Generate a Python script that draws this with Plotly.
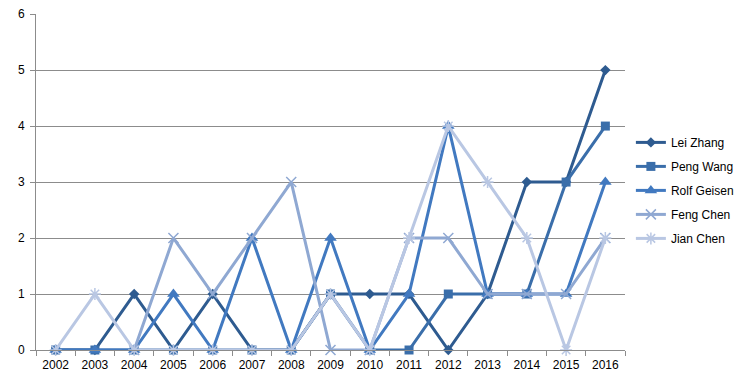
import plotly.graph_objects as go

years = [str(y) for y in range(2002, 2017)]
lei_zhang = [0, 0, 1, 0, 1, 0, 0, 1, 1, 1, 0, 1, 3, 3, 5]
peng_wang = [0, 0, 0, 0, 0, 0, 0, 1, 0, 0, 1, 1, 1, 3, 4]
rolf_geisen = [0, 0, 0, 1, 0, 2, 0, 2, 0, 1, 4, 1, 1, 1, 3]
feng_chen = [None, None, 0, 2, 1, 2, 3, 0, 0, 2, 2, 1, 1, 1, 2]
jian_chen = [0, 1, 0, 0, 0, 0, 0, 1, 0, 2, 4, 3, 2, 0, 2]
y_ticks = [0, 1, 2, 3, 4, 5, 6]

series = [
    ("Lei Zhang", lei_zhang, "#2e5b90", "diamond", 8),
    ("Peng Wang", peng_wang, "#3a6eaa", "square", 9),
    ("Rolf Geisen", rolf_geisen, "#4179c0", "triangle-up", 11),
    ("Feng Chen", feng_chen, "#8fa8d2", "x-thin-open", 10),
    ("Jian Chen", jian_chen, "#b9c7e3", "asterisk-open", 10),
]

fig = go.Figure()
for name, vals, color, sym, size in series:
    open_sym = sym.endswith("open")
    fig.add_trace(go.Scatter(
        x=years, y=vals, name=name, mode="lines+markers", legendgroup=name,
        line=dict(color=color, width=3),
        marker=dict(symbol=sym, size=size, color=color,
                    line=dict(color=color, width=1.5 if open_sym else 0)),
        connectgaps=False, cliponaxis=False,
    ))

fig.update_layout(
    width=754, height=382,
    margin=dict(l=28, r=137, t=6, b=40),
    plot_bgcolor="white", paper_bgcolor="white",
    font=dict(family="Liberation Sans, Arial, sans-serif", size=12, color="#000000"),
    showlegend=True,
    legend=dict(x=1.010, xanchor="left", y=0.475, yanchor="middle",
                font=dict(size=12), bgcolor="rgba(0,0,0,0)", itemwidth=30,
                tracegroupgap=5),
)
fig.update_xaxes(
    type="category", range=[-0.5, 14.5], automargin=False,
    showgrid=False, showline=True, linecolor="#8c8c8c", linewidth=1,
    ticks="outside", tickson="boundaries", ticklen=5, tickcolor="#8c8c8c",
    ticklabelstandoff=4, zeroline=False,
)
fig.update_yaxes(
    range=[0, 6.002], tickmode="array", tickvals=y_ticks, automargin=False,
    showgrid=True, gridcolor="#8c8c8c", gridwidth=1,
    showline=True, linecolor="#8c8c8c", linewidth=1,
    ticks="outside", ticklen=5, tickcolor="#8c8c8c", zeroline=False,
    ticklabelstandoff=3, ticklabeloverflow="allow",
)
fig.write_html("out.html")
